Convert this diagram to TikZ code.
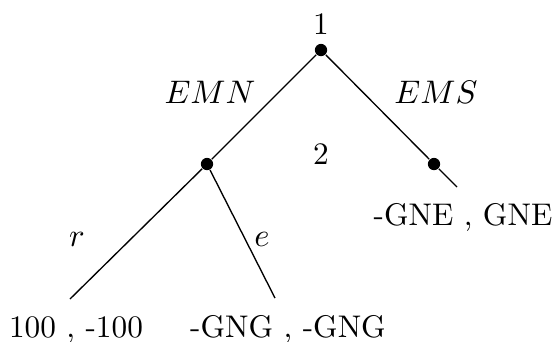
\documentclass[tikz,border=0pt]{standalone}
\usepackage{amsmath}
\usetikzlibrary{positioning,calc}
\tikzset{
  dec/.style={circle,fill=black,inner sep=0pt,minimum size=0.145cm},
  branch/.style={line width=0.45pt},
  pay/.style={inner sep=0pt,anchor=base,font=\fontsize{10.5pt}{12pt}\selectfont},
  lbl/.style={inner sep=0pt,anchor=base,font=\fontsize{10.5pt}{12pt}\selectfont}
}

\begin{document}
\begin{tikzpicture}[x=0.0118cm, y=-0.0118cm]
  \useasboundingbox (0,0) rectangle (554,341);
  % Decision nodes
  \node[dec] (n1) at (321,50) {};
  \node[dec] (n2) at (207,164) {};
  \node[dec] (n3) at (434,164) {};
  \node[lbl] (p1) at (321,34) {1};
  \node[lbl] (p2) at (321,164) {2};

  % End points of branches
  \coordinate (t1) at (70,299);
  \coordinate (t2) at (275,298);
  \coordinate (t3) at (457,187);

  % Branches
  \draw[branch] (n1) -- (n2);
  \draw[branch] (n1) -- (n3);
  \draw[branch] (n2) -- (t1);
  \draw[branch] (n2) -- (t2);
  \draw[branch] (n3) -- (t3);

  % Action labels
  \node[lbl] (aEMN) at (210,103) {$EMN$};
  \node[lbl] (aEMS) at (436,103) {$EMS$};
  \node[lbl] (ar) at (77,246) {$r$};
  \node[lbl] (ae) at (262,246) {$e$};

  % Payoffs
  \node[pay] (u1) at (76,337) {100 , -100};
  \node[pay] (u2) at (288,337) {-GNG , -GNG};
  \node[pay] (u3) at (463,225) {-GNE , GNE};
\end{tikzpicture}
\end{document}
